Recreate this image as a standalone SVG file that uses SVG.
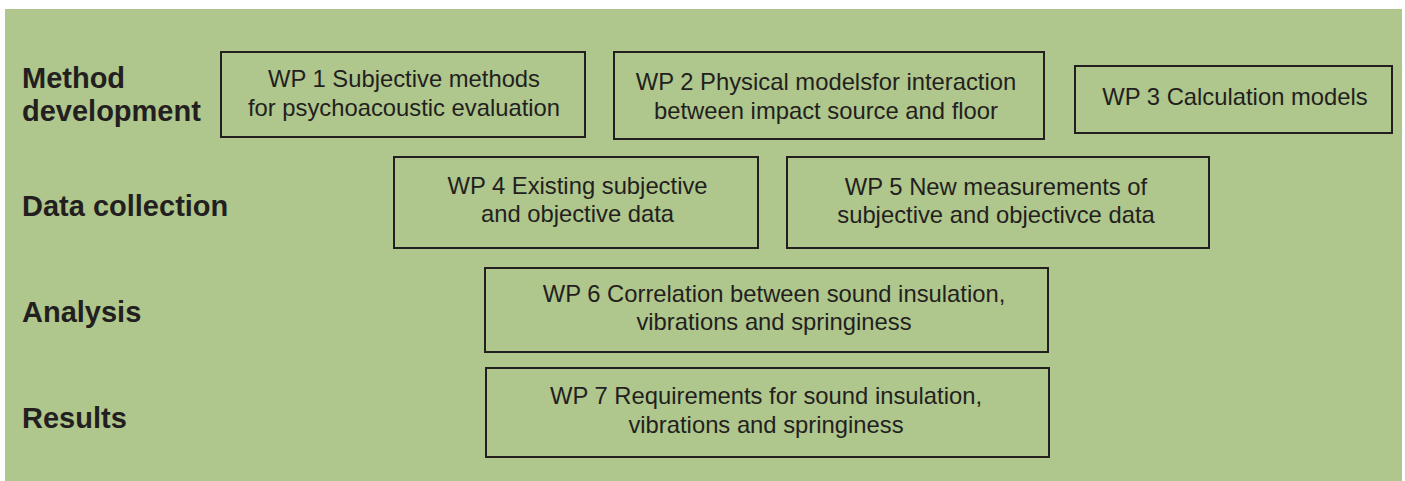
<svg xmlns="http://www.w3.org/2000/svg" width="1405" height="481" viewBox="0 0 1405 481">
<style>
.bg{fill:#AFC68C}
.box{fill:#AFC68C;stroke:#231F20;stroke-width:2}
.lbl{font-family:"Liberation Sans",Arial,sans-serif;font-weight:bold;font-size:29px;fill:#231F20}
.t{font-family:"Liberation Sans",Arial,sans-serif;font-size:23.8px;fill:#231F20;text-anchor:middle}
</style>
<rect x="0" y="0" width="1405" height="481" fill="#FFFFFF"/>
<rect class="bg" x="5" y="9" width="1397" height="472"/>
<g id="labels">
<text class="lbl" x="22" y="87.5">Method</text>
<text class="lbl" x="22" y="121">development</text>
<text class="lbl" x="22" y="216">Data collection</text>
<text class="lbl" x="22" y="322">Analysis</text>
<text class="lbl" x="22" y="428">Results</text>
</g>
<g id="wp1"><rect class="box" x="221" y="52" width="364" height="85"/>
<text class="t" x="404" y="87">WP 1 Subjective methods</text>
<text class="t" x="404" y="116">for psychoacoustic evaluation</text></g>
<g id="wp2"><rect class="box" x="614" y="52" width="430" height="87"/>
<text class="t" x="826" y="90">WP 2 Physical modelsfor interaction</text>
<text class="t" x="826" y="118.5">between impact source and floor</text></g>
<g id="wp3"><rect class="box" x="1075" y="66" width="317" height="67"/>
<text class="t" x="1235" y="105">WP 3 Calculation models</text></g>
<g id="wp4"><rect class="box" x="394" y="157" width="364" height="91"/>
<text class="t" x="577.5" y="194">WP 4 Existing subjective</text>
<text class="t" x="577.5" y="222">and objective data</text></g>
<g id="wp5"><rect class="box" x="787" y="157" width="422" height="91"/>
<text class="t" x="996" y="195">WP 5 New measurements of</text>
<text class="t" x="996" y="223">subjective and objectivce data</text></g>
<g id="wp6"><rect class="box" x="485" y="268" width="563" height="84"/>
<text class="t" x="774" y="302">WP 6 Correlation between sound insulation,</text>
<text class="t" x="774" y="330">vibrations and springiness</text></g>
<g id="wp7"><rect class="box" x="486" y="368" width="563" height="89"/>
<text class="t" x="766" y="404">WP 7 Requirements for sound insulation,</text>
<text class="t" x="766" y="433">vibrations and springiness</text></g>
<g id="connectors"></g>
</svg>
